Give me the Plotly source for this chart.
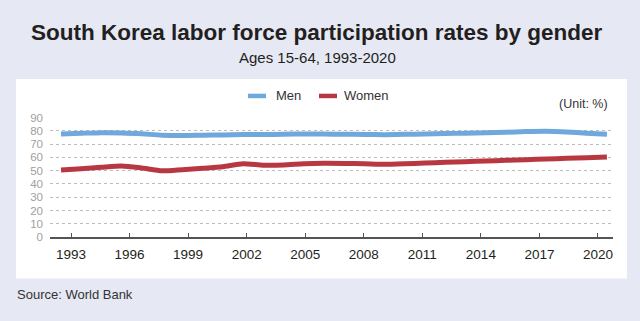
import plotly.graph_objects as go

# South Korea labour force participation, ages 15-64 (%)
years = list(range(1993, 2021))
men = [77.7, 78.2, 78.7, 78.5, 77.8, 76.8, 76.5, 76.8, 77.0, 77.3,
       77.3, 77.5, 77.7, 77.6, 77.5, 77.3, 77.2, 77.4, 77.7, 78.0,
       78.3, 78.6, 79.0, 79.5, 79.7, 79.2, 78.3, 77.5]
women = [50.5, 51.5, 52.6, 53.6, 52.0, 49.9, 50.8, 51.8, 53.0, 55.3,
         54.2, 54.3, 55.2, 55.6, 55.5, 55.2, 54.8, 55.2, 55.8, 56.3,
         56.8, 57.3, 57.8, 58.3, 58.8, 59.3, 59.8, 60.3]
tick_years = list(range(1993, 2021, 3))
y_ticks = list(range(0, 100, 10))

MEN_COLOR = "#6fa8dc"
WOMEN_COLOR = "#b83842"
BG = "#e6e8f4"
FONT = "Liberation Sans, Arial, sans-serif"

W, H = 640, 321
L, R, T, B = 50, 613, 117.0, 236.7


def fx(px):
    return (px - L) / (R - L)


def fy(py):
    return (B - py) / (B - T)


fig = go.Figure()
fig.add_trace(go.Scatter(x=years, y=men, mode="lines", name="Men",
                         line=dict(color=MEN_COLOR, width=5, shape="spline", smoothing=0.6),
                         hoverinfo="skip"))
fig.add_trace(go.Scatter(x=years, y=women, mode="lines", name="Women",
                         line=dict(color=WOMEN_COLOR, width=5, shape="spline", smoothing=0.6),
                         hoverinfo="skip"))
# carrier trace for the labelled year axis
fig.add_trace(go.Scatter(x=tick_years, y=[None] * len(tick_years), xaxis="x2",
                         mode="lines", showlegend=False, hoverinfo="skip"))

shapes = [
    # white card behind the chart
    dict(type="rect", xref="paper", yref="paper", x0=fx(16), x1=fx(627), y0=fy(278), y1=fy(79),
         fillcolor="white", line=dict(width=0), layer="below"),
    # legend keys
    dict(type="line", xref="paper", yref="paper", x0=fx(248), x1=fx(266), y0=fy(96), y1=fy(96),
         line=dict(color=MEN_COLOR, width=4.5)),
    dict(type="line", xref="paper", yref="paper", x0=fx(319), x1=fx(337), y0=fy(96), y1=fy(96),
         line=dict(color=WOMEN_COLOR, width=4.5)),
]

annotations = [
    dict(text="<b>South Korea labor force participation rates by gender</b>",
         xref="paper", yref="paper", x=fx(317), y=fy(33), xanchor="center", yanchor="middle",
         showarrow=False, font=dict(size=22.5, color="#231f20", family=FONT)),
    dict(text="Ages 15-64, 1993-2020", xref="paper", yref="paper", x=fx(317), y=fy(58),
         xanchor="center", yanchor="middle", showarrow=False,
         font=dict(size=15, color="#231f20", family=FONT)),
    dict(text="Men", xref="paper", yref="paper", x=fx(274), y=fy(95.5), xanchor="left",
         yanchor="middle", showarrow=False, font=dict(size=13, color="#333333", family=FONT)),
    dict(text="Women", xref="paper", yref="paper", x=fx(342), y=fy(95.5), xanchor="left",
         yanchor="middle", showarrow=False, font=dict(size=13, color="#333333", family=FONT)),
    dict(text="(Unit: %)", xref="paper", yref="paper", x=fx(610), y=fy(104), xanchor="right",
         yanchor="middle", showarrow=False, font=dict(size=12.5, color="#333333", family=FONT)),
    dict(text="Source: World Bank", xref="paper", yref="paper", x=fx(15), y=fy(294),
         xanchor="left", yanchor="middle", showarrow=False,
         font=dict(size=13, color="#333333", family=FONT)),
]

fig.update_layout(
    width=W, height=H,
    margin=dict(l=L, r=W - R, t=T, b=H - B, pad=0),
    paper_bgcolor=BG, plot_bgcolor="rgba(0,0,0,0)",
    showlegend=False,
    font=dict(family=FONT),
    shapes=shapes, annotations=annotations,
    xaxis=dict(range=[1992.456, 2020.30], visible=False, fixedrange=True),
    xaxis2=dict(overlaying="x", anchor="y", side="bottom",
                range=[1991.924, 2020.77], tickvals=tick_years,
                ticktext=[str(y) for y in tick_years],
                showgrid=False, zeroline=False,
                showline=True, linecolor="#555555", linewidth=1.5,
                ticks="inside", ticklen=4, tickwidth=1, tickcolor="#555555",
                ticklabelstandoff=4,
                tickfont=dict(size=13.5, color="#231f20", family=FONT)),
    yaxis=dict(range=[0, 90.5], tickvals=y_ticks, showgrid=True,
               gridcolor="#bdbdbd", griddash="3px,3px", gridwidth=1,
               zeroline=False, showline=False, ticks="",
               ticklabelstandoff=6,
               tickfont=dict(size=11.5, color="#a0a0a0", family=FONT)),
)

fig.write_html("out.html")
